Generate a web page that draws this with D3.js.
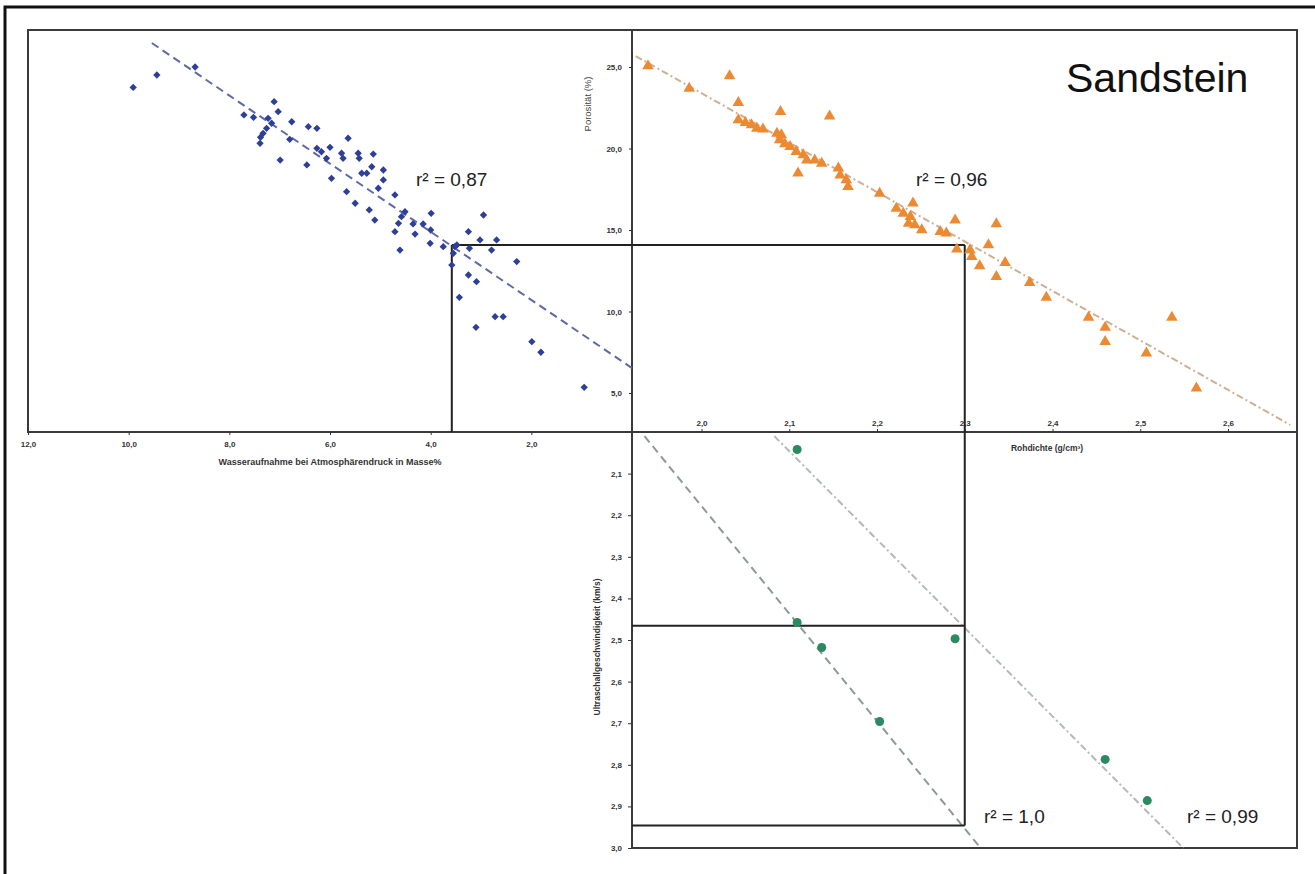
<!DOCTYPE html>
<meta charset="utf-8">
<style>
body { margin: 0; background: #fff; }
text { font-family: "Liberation Sans", Arial, sans-serif; }
.tick text { font-family: "Liberation Sans Narrow", "Liberation Sans", Arial, sans-serif; font-size: 8px; font-weight: bold; fill: #333; }
.tick line { stroke: #333; }
.frame { fill: none; stroke: #3a3a3a; stroke-width: 2px; }
.guide { stroke: #222; stroke-width: 2px; }
</style>
<body>
<script src="https://cdn.jsdelivr.net/npm/d3@7"></script>
<script>

// tick labels
var wasserTicks = [12, 10, 8, 6, 4, 2];
var porosityTicks = [25, 20, 15, 10, 5];
var rohdichteTicks = [2.0, 2.1, 2.2, 2.3, 2.4, 2.5, 2.6];
var velocityTicks = [2.1, 2.2, 2.3, 2.4, 2.5, 2.6, 2.7, 2.8, 2.9, 3.0];

// water absorption vs porosity (blue diamonds)
var blueWasser = [9.91,9.44,8.68,7.11,7.71,7.52,7.03,7.23,7.16,7.26,7.33,7.38,7.39,6.76,6.43,6.26,6.80,6.99,6.46,6.26,6.17,6.00,6.07,5.97,5.64,5.77,5.74,5.44,5.42,5.14,5.17,5.37,5.27,4.94,4.94,5.04,5.67,5.50,4.71,5.22,5.11,4.51,4.58,4.64,4.71,4.61,4.35,4.15,3.99,4.00,4.31,4.01,3.75,3.25,2.95,3.52,3.23,3.02,2.69,3.58,3.48,2.79,3.55,2.29,3.25,3.09,3.43,2.72,2.56,3.10,1.99,1.81,0.95];
var bluePorosity = [23.75,24.51,25.0,22.87,22.06,21.91,22.26,21.85,21.55,21.24,20.93,20.69,20.32,21.64,21.34,21.24,20.56,19.29,18.99,20.01,19.80,20.07,19.40,18.17,20.63,19.71,19.40,19.71,19.40,19.66,18.88,18.48,18.48,18.68,18.07,17.56,17.35,16.64,17.15,16.23,15.61,16.12,15.82,15.41,14.90,13.77,15.37,15.37,16.02,15.00,14.75,14.18,13.98,14.90,15.92,13.98,13.88,14.39,14.39,12.85,14.08,13.77,13.57,13.06,12.24,11.83,10.87,9.68,9.68,9.03,8.15,7.50,5.35];

// bulk density vs porosity (orange triangles)
var orangeRho = [1.939,2.032,1.986,2.042,2.090,2.146,2.042,2.050,2.057,2.063,2.070,2.086,2.091,2.089,2.095,2.101,2.108,2.116,2.120,2.129,2.137,2.110,2.156,2.158,2.165,2.167,2.203,2.222,2.241,2.230,2.238,2.236,2.243,2.251,2.289,2.272,2.279,2.336,2.291,2.306,2.308,2.327,2.317,2.346,2.336,2.374,2.393,2.441,2.460,2.460,2.536,2.507,2.564];
var orangePorosity = [25.06,24.45,23.69,22.81,22.26,21.99,21.75,21.58,21.44,21.24,21.18,20.93,20.83,20.52,20.28,20.11,19.80,19.60,19.29,19.29,19.09,18.48,18.79,18.37,18.07,17.66,17.25,16.33,16.64,16.02,15.82,15.41,15.31,15.00,15.61,14.90,14.80,15.37,13.82,13.77,13.36,14.08,12.79,12.99,12.13,11.77,10.87,9.64,9.03,8.15,9.64,7.44,5.29];

// bulk density vs ultrasonic velocity (green dots, two series)
var greenRhoA = [2.109, 2.137, 2.203];
var greenVelA = [2.458, 2.518, 2.696];
var greenRhoB = [2.109, 2.289, 2.460, 2.508];
var greenVelB = [2.042, 2.497, 2.787, 2.886];

// regression lines (end points)
var blueFitWasser = [9.54, 0];
var blueFitPorosity = [26.47, 6.53];
var orangeFitRho = [1.925, 2.671];
var orangeFitPorosity = [25.67, 3.04];
var greenFitRhoA = [1.935, 2.318];
var greenFitVelA = [2.01, 3.0];
var greenFitRhoB = [2.083, 2.549];
var greenFitVelB = [2.01, 3.0];

// reading guide
var guideWasser = 3.58, guidePorosity = 14.08, guideRho = 2.30;
var guideVelocity = [2.466, 2.946];

// panel geometry
var panelLeft = 28, panelMid = 632, panelRight = 1297, panelTop = 30, axisY = 432, panelBottom = 848;

var xW = d3.scaleLinear().domain([12, 0]).range([panelLeft, panelMid]);
var yP = d3.scaleLinear().domain([5, 25]).range([393, 67]);
var xR = d3.scaleLinear().domain([2.0, 2.6]).range([701.5, 1228]);
var yV = d3.scaleLinear().domain([2.0, 3.0]).range([axisY, panelBottom]);

var fmt = function(d) { return d3.format(".1f")(d).replace(".", ","); };

var svg = d3.select("body").append("svg")
    .attr("width", 1315)
    .attr("height", 874);

// outer frame
svg.append("rect")
    .attr("x", 5).attr("y", 7)
    .attr("width", 1330).attr("height", 890)
    .attr("fill", "none")
    .attr("stroke", "#111")
    .attr("stroke-width", 3);

// panel frames
svg.append("rect").attr("class", "frame")
    .attr("x", panelLeft).attr("y", panelTop)
    .attr("width", panelMid - panelLeft).attr("height", axisY - panelTop);
svg.append("rect").attr("class", "frame")
    .attr("x", panelMid).attr("y", panelTop)
    .attr("width", panelRight - panelMid).attr("height", axisY - panelTop);
svg.append("rect").attr("class", "frame")
    .attr("x", panelMid).attr("y", axisY)
    .attr("width", panelRight - panelMid).attr("height", panelBottom - axisY);

// axes
var gW = svg.append("g")
    .attr("transform", "translate(0," + axisY + ")")
    .call(d3.axisBottom(xW).tickValues(wasserTicks).tickSize(3).tickPadding(6).tickFormat(fmt));
gW.select(".domain").remove();

var gR = svg.append("g")
    .attr("transform", "translate(0," + axisY + ")")
    .call(d3.axisTop(xR).tickValues(rohdichteTicks).tickSize(3).tickPadding(3).tickFormat(fmt));
gR.select(".domain").remove();

var gP = svg.append("g")
    .attr("transform", "translate(" + panelMid + ",0)")
    .call(d3.axisLeft(yP).tickValues(porosityTicks).tickSize(3).tickPadding(7).tickFormat(fmt));
gP.select(".domain").remove();

var gV = svg.append("g")
    .attr("transform", "translate(" + panelMid + ",0)")
    .call(d3.axisLeft(yV).tickValues(velocityTicks).tickSize(4).tickPadding(6).tickFormat(fmt));
gV.select(".domain").remove();

// axis titles
svg.append("text")
    .attr("x", 330).attr("y", 465)
    .attr("text-anchor", "middle")
    .style("font-size", "9px").style("font-weight", "bold").style("fill", "#333")
    .text("Wasseraufnahme bei Atmosphärendruck in Masse%");

svg.append("text")
    .attr("x", 1047).attr("y", 451)
    .attr("text-anchor", "middle")
    .style("font-size", "8.5px").style("font-weight", "bold").style("fill", "#333")
    .text("Rohdichte (g/cm³)");

svg.append("text")
    .attr("transform", "translate(591,104) rotate(-90)")
    .attr("text-anchor", "middle")
    .style("font-size", "9.5px").style("fill", "#444")
    .text("Porosität (%)");

svg.append("text")
    .attr("transform", "translate(600,647) rotate(-90)")
    .attr("text-anchor", "middle")
    .style("font-size", "8.5px").style("font-weight", "bold").style("fill", "#333")
    .text("Ultraschallgeschwindigkeit (km/s)");

// regression lines
function fitLine(xs, ys, sx, sy, color, dash) {
  svg.append("line")
      .attr("x1", sx(xs[0])).attr("y1", sy(ys[0]))
      .attr("x2", sx(xs[1])).attr("y2", sy(ys[1]))
      .attr("stroke", color)
      .attr("stroke-width", 2)
      .attr("stroke-dasharray", dash);
}
fitLine(blueFitWasser, blueFitPorosity, xW, yP, "#5d6aa6", "8,5");
fitLine(orangeFitRho, orangeFitPorosity, xR, yP, "#cdb092", "7,3,2,3");
fitLine(greenFitRhoA, greenFitVelA, xR, yV, "#8f9a93", "8,5");
fitLine(greenFitRhoB, greenFitVelB, xR, yV, "#b3bab5", "7,3,2,3");

// reading guide lines
function guide(x1, y1, x2, y2) {
  svg.append("line").attr("class", "guide")
      .attr("x1", x1).attr("y1", y1).attr("x2", x2).attr("y2", y2);
}
guide(xW(guideWasser), yP(guidePorosity), xR(guideRho), yP(guidePorosity));
guide(xW(guideWasser), yP(guidePorosity), xW(guideWasser), axisY);
guide(xR(guideRho), yP(guidePorosity), xR(guideRho), yV(guideVelocity[1]));
guide(panelMid, yV(guideVelocity[0]), xR(guideRho), yV(guideVelocity[0]));
guide(panelMid, yV(guideVelocity[1]), xR(guideRho), yV(guideVelocity[1]));

// blue diamonds
svg.append("g").selectAll("path")
    .data(blueWasser)
  .enter().append("path")
    .attr("transform", function(d, i) { return "translate(" + xW(d) + "," + yP(bluePorosity[i]) + ")"; })
    .attr("d", d3.symbol().type(d3.symbolDiamond2).size(34))
    .attr("fill", "#2d3f99");

// orange triangles
svg.append("g").selectAll("path")
    .data(orangeRho)
  .enter().append("path")
    .attr("transform", function(d, i) { return "translate(" + xR(d) + "," + yP(orangePorosity[i]) + ")"; })
    .attr("d", d3.symbol().type(d3.symbolTriangle).size(58))
    .attr("fill", "#ec8a33");

// green dots
svg.append("g").selectAll("circle")
    .data(greenRhoA.map(function(d, i) { return [d, greenVelA[i]]; })
      .concat(greenRhoB.map(function(d, i) { return [d, greenVelB[i]]; })))
  .enter().append("circle")
    .attr("cx", function(d) { return xR(d[0]); })
    .attr("cy", function(d) { return yV(d[1]); })
    .attr("r", 4.5)
    .attr("fill", "#2b8a62");

// labels
function label(x, y, t) {
  svg.append("text")
      .attr("x", x).attr("y", y)
      .style("font-size", "19px").style("fill", "#222")
      .text(t);
}
label(416, 186, "r² = 0,87");
label(916, 186, "r² = 0,96");
label(984, 823, "r² = 1,0");
label(1187, 823, "r² = 0,99");

svg.append("text")
    .attr("x", 1066).attr("y", 92)
    .style("font-size", "41px").style("fill", "#111")
    .text("Sandstein");

</script>
</body>
